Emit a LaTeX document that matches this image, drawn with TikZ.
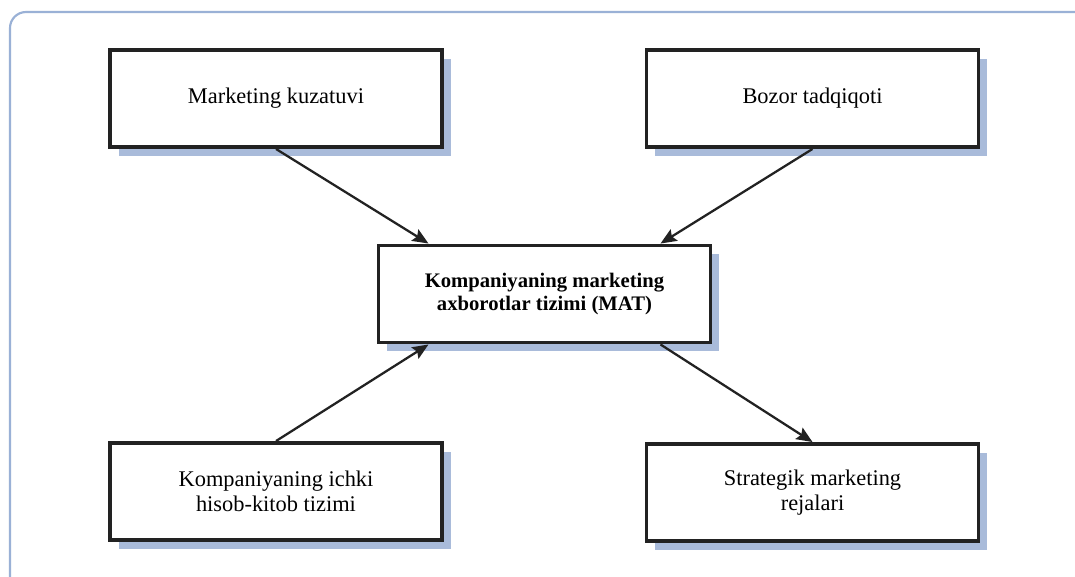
\documentclass[tikz,border=0pt]{standalone}
\usepackage{fontspec}
\setmainfont{Liberation Serif}
\usetikzlibrary{arrows.meta, shadows}

\definecolor{ramka}{HTML}{9AB1D6}
\definecolor{ten}{HTML}{A9BBDA}
\definecolor{kontur}{HTML}{222222}

\tikzset{
  blok/.style={draw=kontur, line width=2.7pt, fill=white, minimum width=249pt, minimum height=73pt,
    inner sep=0pt, align=center, font=\fontsize{16.8}{19}\selectfont,
    drop shadow={shadow xshift=6.5pt, shadow yshift=-6.5pt, fill=ten, opacity=1}},
  strelka/.style={kontur, line width=1.7pt, -{Stealth[length=12pt, width=10pt, inset=2pt]}}
}

\begin{document}
\begin{tikzpicture}[x=0.75pt, y=-0.75pt]
				% Поле рисунка
				\useasboundingbox (0,0) rectangle (1075,576);
				\fill[white] (0,0) rectangle (1075,576);
				
				% Внешняя рамка
				\begin{scope}
					\clip (0,0) rectangle (1075,576);
					\draw[ramka, line width=1.6pt, rounded corners=12pt] (10,12) rectangle (1100,600);
				\end{scope}
				
				% Центры блоков
				\coordinate (A) at (276,98.5);
				\coordinate (B) at (812.5,98.5);
				\coordinate (C) at (544.5,294);
				\coordinate (D) at (276,491.5);
				\coordinate (E) at (812.5,492.5);
				
				% Блоки
				\node[blok] (MK) at (A) {Marketing kuzatuvi};
				\node[blok] (BT) at (B) {Bozor tadqiqoti};
				\node[blok, font=\bfseries\fontsize{15.5}{17.3}\selectfont] (MAT) at (C) {Kompaniyaning marketing\\axborotlar tizimi (MAT)};
				\node[blok] (IH) at (D) {Kompaniyaning ichki\\hisob-kitob tizimi};
				\node[blok] (SR) at (E) {Strategik marketing\\rejalari};
				
				% Стрелки
				\draw[strelka] (MK.south) -- ([xshift=-87pt]MAT.north);
				\draw[strelka] (BT.south) -- ([xshift=87pt]MAT.north);
				\draw[strelka] (IH.north) -- ([xshift=-87pt]MAT.south);
				\draw[strelka] ([xshift=87pt]MAT.south) -- (SR.north);
			\end{tikzpicture}
\end{document}
